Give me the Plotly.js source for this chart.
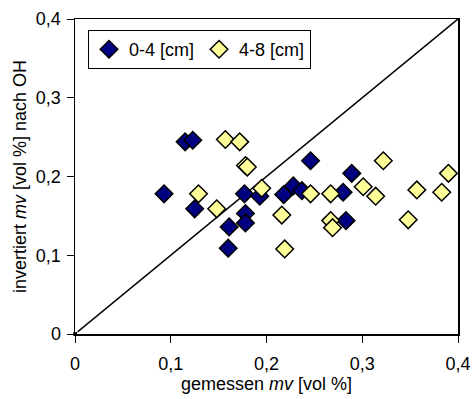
<!DOCTYPE html>
<html>
<head>
<meta charset="utf-8">
<script src="https://cdn.plot.ly/plotly-3.0.1.min.js"></script>
<style>html,body{margin:0;padding:0;background:#fff;}#chart{width:474px;height:399px;}</style>
</head>
<body>
<div id="chart"></div>
<script>
// 1:1 reference line
const lineX = [0, 0.411];
const lineY = [0, 0.411];

// 0-4 cm
const navyX = [0.115, 0.123, 0.093, 0.125, 0.161, 0.160, 0.177, 0.178, 0.178, 0.193, 0.218, 0.228, 0.237, 0.246, 0.280, 0.289, 0.283];
const navyY = [0.244, 0.246, 0.178, 0.159, 0.136, 0.109, 0.178, 0.153, 0.141, 0.175, 0.177, 0.188, 0.182, 0.220, 0.180, 0.204, 0.144];

// 4-8 cm
const yellowX = [0.157, 0.172, 0.178, 0.180, 0.129, 0.148, 0.195, 0.216, 0.219, 0.246, 0.267, 0.267, 0.269, 0.301, 0.314, 0.322, 0.348, 0.357, 0.383, 0.390];
const yellowY = [0.247, 0.244, 0.214, 0.212, 0.178, 0.159, 0.185, 0.151, 0.108, 0.178, 0.178, 0.144, 0.135, 0.187, 0.175, 0.220, 0.145, 0.183, 0.180, 0.204];

const seriesNames = ['0-4 [cm]', '4-8 [cm]'];
const tickVals = [0, 0.1, 0.2, 0.3, 0.4];

const FONT = 'Liberation Sans, Arial, sans-serif';

const traces = [
  {
    x: lineX, y: lineY, type: 'scatter', mode: 'lines+markers',
    line: {color: '#000', width: 1.5},
    marker: {symbol: 'square', color: '#000', size: [5, 0]},
    showlegend: false, cliponaxis: false, hoverinfo: 'skip'
  },
  {
    x: navyX, y: navyY, type: 'scatter', mode: 'markers', name: seriesNames[0],
    marker: {symbol: 'diamond', size: 13.5, color: '#000080', line: {color: '#000', width: 1.5}},
    cliponaxis: false
  },
  {
    x: yellowX, y: yellowY, type: 'scatter', mode: 'markers', name: seriesNames[1],
    marker: {symbol: 'diamond', size: 13.5, color: '#FFFF99', line: {color: '#000', width: 1.5}},
    cliponaxis: false
  }
];

const axisCommon = {
  range: [0, 0.4], tickvals: tickVals, showgrid: false, zeroline: false,
  showline: true, linecolor: '#000', linewidth: 1.5, mirror: true,
  ticks: 'outside', ticklen: 7, tickcolor: '#000', tickwidth: 1,
  tickfont: {family: FONT, size: 18, color: '#000'}, fixedrange: true
};

const layout = {
  width: 474, height: 399,
  margin: {l: 75, r: 16, t: 19, b: 65},
  paper_bgcolor: '#fff', plot_bgcolor: '#fff',
  separators: ',.',
  font: {family: FONT, size: 18, color: '#000'},
  xaxis: Object.assign({}, axisCommon, {
    ticklabelstandoff: 6,
    title: {text: 'gemessen <i>mv</i> [vol %]', font: {family: FONT, size: 18, color: '#000'}, standoff: 4}
  }),
  yaxis: Object.assign({}, axisCommon, {
    ticklabelstandoff: 2,
    title: {text: 'invertiert <i>mv</i> [vol %] nach OH', font: {family: FONT, size: 18, color: '#000'}, standoff: 4}
  }),
  legend: {
    x: 0.034, y: 0.965, xanchor: 'left', yanchor: 'top',
    orientation: 'h', bgcolor: '#fff', bordercolor: '#000', borderwidth: 1,
    font: {family: FONT, size: 18, color: '#000'},
    itemwidth: 30, tracegroupgap: 0
  },
  showlegend: true
};

Plotly.newPlot('chart', traces, layout, {staticPlot: true, displayModeBar: false});
</script>
</body>
</html>
